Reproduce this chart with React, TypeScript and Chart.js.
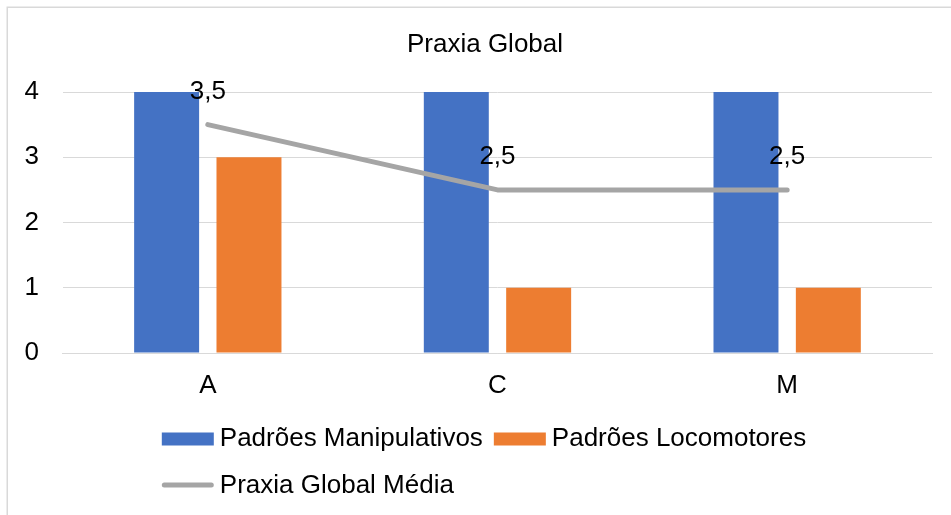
import React, { useEffect, useRef } from "react";
import { Chart, registerables } from "chart.js";

Chart.register(...registerables);

const chartTitle = "Praxia Global";
const categories = ["A", "C", "M"];
const seriesLabels = ["Padrões Manipulativos", "Padrões Locomotores", "Praxia Global Média"];
const manipulativos = [4, 4, 4];
const locomotores = [3, 1, 1];
const praxiaMedia = [3.5, 2.5, 2.5];
const yMin = 0;
const yMax = 4;
const yStep = 1;

const FONT = "'Liberation Sans', Arial, sans-serif";
const BLUE = "#4472C4";
const ORANGE = "#ED7D31";
const GRAY = "#A5A5A5";
const GRID = "#D9D9D9";
const TEXT = "#000000";

const fmt = (v: number) => String(v).replace(".", ",");

const framePlugin = {
  id: "frameAndTitle",
  beforeDraw(chart: any) {
    const ctx = chart.ctx;
    ctx.save();
    ctx.fillStyle = "#ffffff";
    ctx.fillRect(0, 0, chart.width, chart.height);
    ctx.strokeStyle = GRID;
    ctx.lineWidth = 1.5;
    ctx.strokeRect(7.25, 7.25, chart.width + 100, chart.height + 100);
    ctx.font = `26px ${FONT}`;
    ctx.fillStyle = TEXT;
    ctx.textAlign = "center";
    ctx.textBaseline = "middle";
    ctx.fillText(chartTitle, 485, 45);
    ctx.restore();
  },
};

const dataLabelPlugin = {
  id: "lineLabels",
  afterDatasetsDraw(chart: any) {
    const ctx = chart.ctx;
    chart.data.datasets.forEach((ds: any, i: number) => {
      if (ds.type !== "line") return;
      const meta = chart.getDatasetMeta(i);
      ctx.save();
      ctx.font = `26px ${FONT}`;
      ctx.fillStyle = TEXT;
      ctx.textAlign = "center";
      ctx.textBaseline = "middle";
      meta.data.forEach((pt: any, j: number) => {
        ctx.fillText(fmt(ds.data[j]), pt.x, pt.y - 33);
      });
      ctx.restore();
    });
  },
};

const legendPlugin = {
  id: "gridLegend",
  afterDraw(chart: any) {
    const ctx = chart.ctx;
    const ds = chart.data.datasets;
    ctx.save();
    ctx.font = `26px ${FONT}`;
    ctx.textBaseline = "middle";
    ctx.textAlign = "left";
    const boxW = 52;
    const boxH = 13;
    const gap = 6;
    const spacing = 11;
    const w0 = ctx.measureText(ds[0].label).width;
    const w1 = ctx.measureText(ds[1].label).width;
    const rowW = boxW + gap + w0 + spacing + boxW + gap + w1;
    const startX = 484 - rowW / 2;
    const row1 = 439;
    const row2 = 485;
    const drawBox = (x: number, y: number, color: string, label: string) => {
      ctx.fillStyle = color;
      ctx.fillRect(x, y - boxH / 2, boxW, boxH);
      ctx.fillStyle = TEXT;
      ctx.fillText(label, x + boxW + gap, y);
    };
    drawBox(startX, row1, ds[0].backgroundColor, ds[0].label);
    drawBox(startX + boxW + gap + w0 + spacing, row1, ds[1].backgroundColor, ds[1].label);
    ctx.strokeStyle = ds[2].borderColor;
    ctx.lineWidth = 5;
    ctx.lineCap = "round";
    ctx.beginPath();
    ctx.moveTo(startX + 2.5, row2);
    ctx.lineTo(startX + boxW - 2.5, row2);
    ctx.stroke();
    ctx.fillStyle = TEXT;
    ctx.fillText(ds[2].label, startX + boxW + gap, row2 + 1);
    ctx.restore();
  },
};

export default function App() {
  const ref = useRef<HTMLCanvasElement | null>(null);

  useEffect(() => {
    if (!ref.current) return;
    Chart.defaults.font.family = FONT;
    const chart = new Chart(ref.current, {
      type: "bar",
      data: {
        labels: categories,
        datasets: [
          {
            type: "bar",
            label: seriesLabels[0],
            data: manipulativos,
            backgroundColor: BLUE,
            order: 1,
            categoryPercentage: 0.5686,
            barPercentage: 0.789,
          },
          {
            type: "bar",
            label: seriesLabels[1],
            data: locomotores,
            backgroundColor: ORANGE,
            order: 1,
            categoryPercentage: 0.5686,
            barPercentage: 0.789,
          },
          {
            type: "line",
            label: seriesLabels[2],
            data: praxiaMedia,
            borderColor: GRAY,
            backgroundColor: GRAY,
            borderWidth: 5,
            borderCapStyle: "round",
            borderJoinStyle: "round",
            pointRadius: 0,
            pointHoverRadius: 0,
            tension: 0,
            order: 0,
          } as any,
        ],
      },
      options: {
        responsive: false,
        animation: false,
        layout: { padding: { left: 0.5, right: 19, top: 92, bottom: 0 } },
        plugins: {
          legend: { display: false },
          tooltip: { enabled: false },
          title: { display: false },
        },
        scales: {
          x: {
            grid: { display: false },
            border: { display: true, color: GRID, width: 1 },
            ticks: { color: TEXT, font: { size: 26, family: FONT }, padding: 9 },
            afterFit: (scale: any) => {
              scale.height = 162;
            },
          },
          y: {
            min: yMin,
            max: yMax,
            ticks: {
              stepSize: yStep,
              color: TEXT,
              font: { size: 26, family: FONT },
              padding: 24,
            },
            grid: { color: GRID, lineWidth: 1, drawTicks: false },
            border: { display: false },
          },
        },
      },
      plugins: [framePlugin, dataLabelPlugin, legendPlugin],
    });
    return () => chart.destroy();
  }, []);

  return (
    <div style={{ position: "absolute", left: 0, top: 0, width: 951, height: 515 }}>
      <canvas ref={ref} width={951} height={515} style={{ display: "block" }} />
    </div>
  );
}
